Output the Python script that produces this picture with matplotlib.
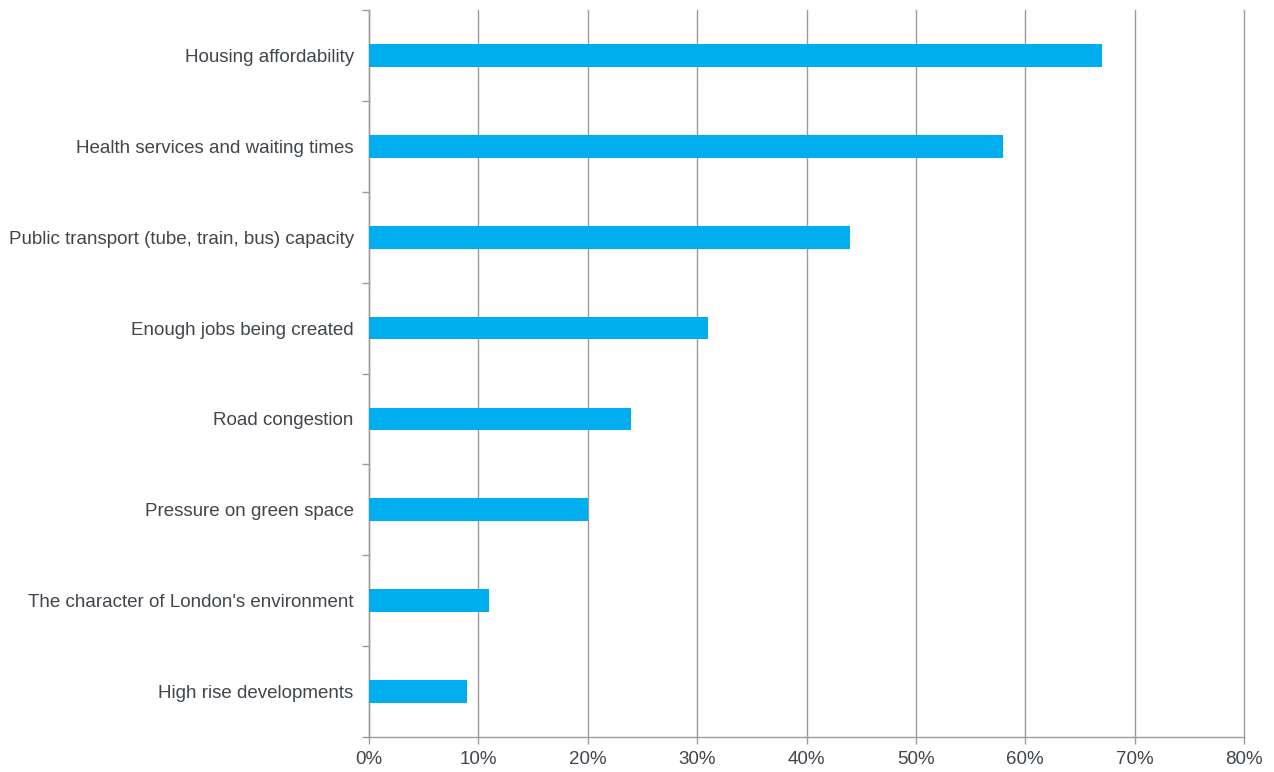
import matplotlib.pyplot as plt
from matplotlib.ticker import FixedLocator, FuncFormatter

categories = [
    "Housing affordability",
    "Health services and waiting times",
    "Public transport (tube, train, bus) capacity",
    "Enough jobs being created",
    "Road congestion",
    "Pressure on green space",
    "The character of London's environment",
    "High rise developments",
]
values = [67, 58, 44, 31, 24, 20, 11, 9]
x_ticks = [0, 10, 20, 30, 40, 50, 60, 70, 80]

plt.rcParams['font.family'] = ['Liberation Sans', 'DejaVu Sans']
text_color = '#40464b'
grid_color = '#9c9c9c'

fig = plt.figure(figsize=(12.74, 7.72), dpi=100)
ax = fig.add_axes([0.2896, 0.0453, 0.9765 - 0.2896, 0.987 - 0.0453])

ypos = list(range(len(categories)))
ax.barh(ypos, values, height=0.25, color='#00aeef', zorder=3)

ax.set_xlim(0, 80)
ax.set_ylim(len(categories) - 0.5, -0.5)

ax.xaxis.set_major_locator(FixedLocator(x_ticks))
ax.xaxis.set_major_formatter(FuncFormatter(lambda v, p: f"{int(v)}%"))
ax.grid(axis='x', color=grid_color, linewidth=1.0, zorder=0)
ax.set_axisbelow(True)
for gl in ax.get_xgridlines():
    gl.set_clip_on(False)

ax.set_yticks(ypos)
ax.set_yticklabels(categories)
ax.set_yticks([i + 0.5 for i in range(-1, len(categories))], minor=True)
ax.tick_params(axis='y', which='major', length=0, pad=11, labelsize=13.5, labelcolor=text_color)
ax.tick_params(axis='y', which='minor', length=5, color=grid_color, width=1)
ax.tick_params(axis='x', which='major', length=5, color=grid_color, width=1,
               labelsize=13.5, labelcolor=text_color, pad=5)

for side in ('top', 'right'):
    ax.spines[side].set_visible(False)
for side in ('left', 'bottom'):
    ax.spines[side].set_color(grid_color)
    ax.spines[side].set_linewidth(1.0)

fig.savefig('out.png', dpi=100)
